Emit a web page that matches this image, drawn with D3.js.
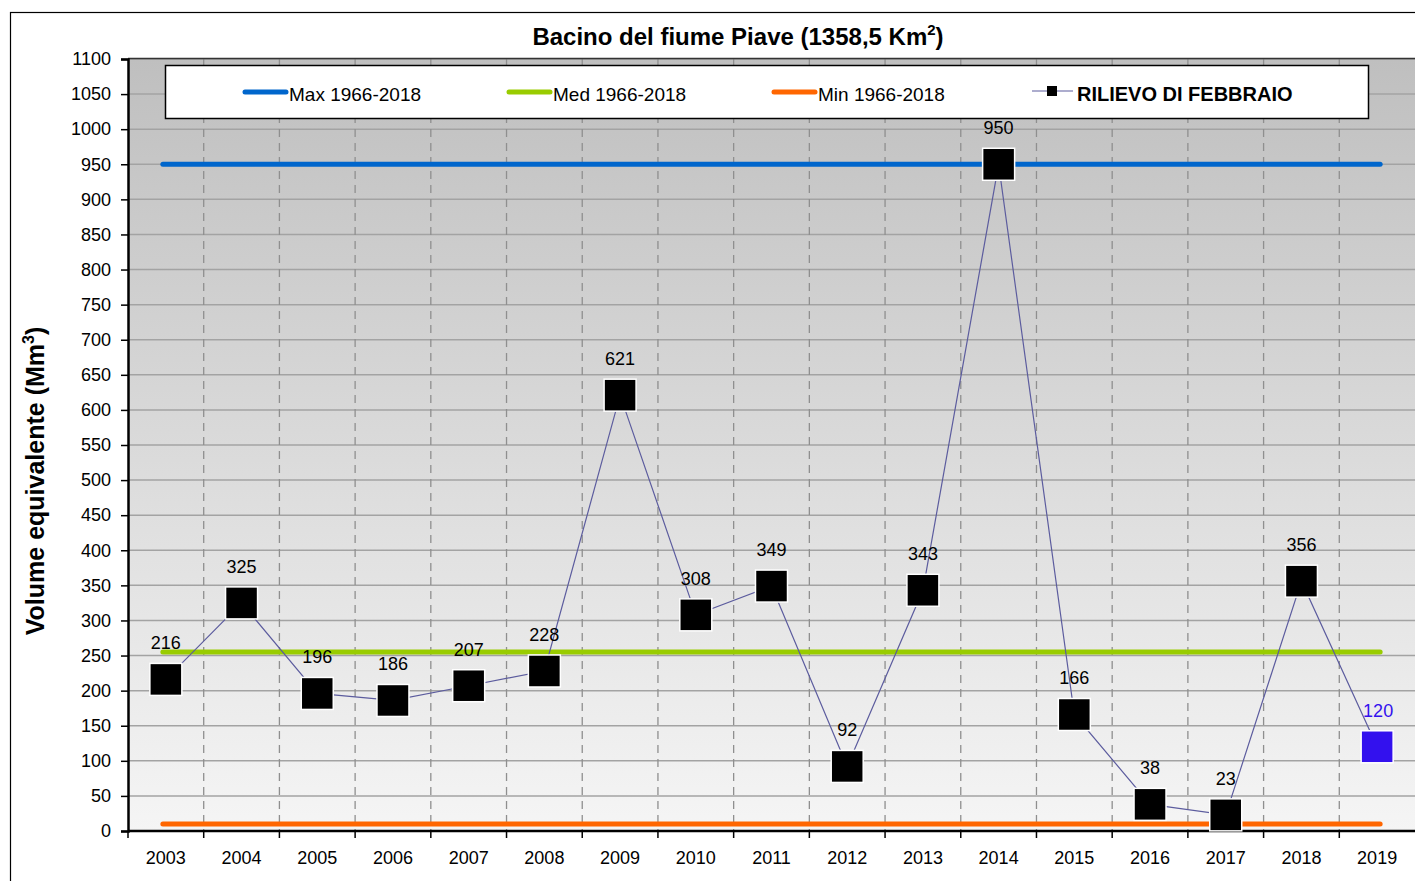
<!DOCTYPE html>
<html>
<head>
<meta charset="utf-8">
<script src="https://cdn.jsdelivr.net/npm/d3@7/dist/d3.min.js"></script>
<style>
  html, body { margin: 0; padding: 0; background: #fff; }
  svg { display: block; font-family: "Liberation Sans", Arial, sans-serif; }
</style>
</head>
<body>
<svg id="chart" width="1415" height="881"></svg>
<script>
// Snow water equivalent, February survey, Piave basin
const years = ["2003","2004","2005","2006","2007","2008","2009","2010","2011","2012","2013","2014","2015","2016","2017","2018","2019"];
const februaryValues = [216, 325, 196, 186, 207, 228, 621, 308, 349, 92, 343, 950, 166, 38, 23, 356, 120];
const maxRef = 950;   // Max 1966-2018
const medRef = 255;   // Med 1966-2018
const minRef = 10;    // Min 1966-2018
const yTicks = d3.range(0, 1101, 50);
const legendLabels = ["Max 1966-2018", "Med 1966-2018", "Min 1966-2018", "RILIEVO DI FEBBRAIO"];

const svg = d3.select("#chart");
const W = 1415, H = 881;
const plot = { left: 128, right: 1415, top: 59, bottom: 831 };

// outer chart frame
svg.append("rect").attr("x", 10.5).attr("y", 12.5).attr("width", W).attr("height", H)
  .attr("fill", "#fff").attr("stroke", "#000").attr("stroke-width", 1.2);

const x = d3.scaleBand().domain(years).range([plot.left, plot.right]).padding(0);
const y = d3.scaleLinear().domain([0, 1100]).range([plot.bottom, plot.top]);

// plot background gradient
const defs = svg.append("defs");
const grad = defs.append("linearGradient").attr("id", "bg").attr("x1", 0).attr("y1", 0).attr("x2", 0).attr("y2", 1);
grad.append("stop").attr("offset", "0%").attr("stop-color", "#bfbfbf");
grad.append("stop").attr("offset", "100%").attr("stop-color", "#f5f5f5");
svg.append("rect").attr("x", plot.left).attr("y", plot.top)
  .attr("width", plot.right - plot.left).attr("height", plot.bottom - plot.top)
  .attr("fill", "url(#bg)");

// horizontal gridlines
svg.append("g").selectAll("line").data(yTicks.filter(d => d > 0)).join("line")
  .attr("x1", plot.left).attr("x2", plot.right)
  .attr("y1", d => y(d)).attr("y2", d => y(d))
  .attr("stroke", "#a3a3a3").attr("stroke-width", 1.5);

// vertical dashed gridlines at category boundaries
svg.append("g").selectAll("line").data(years.slice(1)).join("line")
  .attr("x1", d => x(d)).attr("x2", d => x(d))
  .attr("y1", plot.top).attr("y2", plot.bottom)
  .attr("stroke", "#8f8f8f").attr("stroke-width", 1.3).attr("stroke-dasharray", "8,6");

// plot top border
svg.append("line").attr("x1", plot.left).attr("x2", plot.right)
  .attr("y1", plot.top - 0.5).attr("y2", plot.top - 0.5)
  .attr("stroke", "#333").attr("stroke-width", 1.5);

// title
const title = svg.append("text").attr("x", 738).attr("y", 45)
  .attr("text-anchor", "middle").attr("font-size", 24).attr("font-weight", "bold").attr("fill", "#000");
title.append("tspan").text("Bacino del fiume Piave (1358,5 Km");
title.append("tspan").attr("font-size", 15).attr("dy", -10).text("2");
title.append("tspan").attr("dy", 10).text(")");

// y axis title
const yTitle = svg.append("text")
  .attr("transform", "translate(44,481) rotate(-90)")
  .attr("text-anchor", "middle").attr("font-size", 25).attr("font-weight", "bold").attr("fill", "#000");
yTitle.append("tspan").text("Volume equivalente (Mm");
yTitle.append("tspan").attr("font-size", 16).attr("dy", -10).text("3");
yTitle.append("tspan").attr("dy", 10).text(")");

// y axis
const yAxis = svg.append("g").attr("transform", `translate(${plot.left},0)`)
  .call(d3.axisLeft(y).tickValues(yTicks).tickFormat(d3.format("d")).tickSize(7).tickPadding(10));
yAxis.select(".domain").attr("stroke", "#000").attr("stroke-width", 2.5);
yAxis.selectAll(".tick line").attr("stroke", "#000").attr("stroke-width", 1.5);
yAxis.selectAll(".tick text").attr("font-size", 18).attr("fill", "#000")
  .attr("font-family", "Liberation Sans, Arial, sans-serif");

// x axis: ticks at category boundaries, labels at centres
const xAxisG = svg.append("g");
xAxisG.append("line").attr("x1", plot.left).attr("x2", plot.right)
  .attr("y1", plot.bottom).attr("y2", plot.bottom)
  .attr("stroke", "#000").attr("stroke-width", 2.5);
xAxisG.selectAll("line.tk").data(years).join("line").attr("class", "tk")
  .attr("x1", d => x(d)).attr("x2", d => x(d))
  .attr("y1", plot.bottom).attr("y2", plot.bottom + 7)
  .attr("stroke", "#000").attr("stroke-width", 1.5);
xAxisG.selectAll("text").data(years).join("text")
  .attr("x", d => x(d) + x.bandwidth() / 2).attr("y", plot.bottom + 33)
  .attr("text-anchor", "middle").attr("font-size", 18).attr("fill", "#000").text(d => d);

// reference lines
const xFirst = x(years[0]) + x.bandwidth() / 2 - 3;
const xLast = x(years[years.length - 1]) + x.bandwidth() / 2 + 3;
const refs = [
  { v: maxRef, c: "#0066cc" },
  { v: medRef, c: "#99cc00" },
  { v: minRef, c: "#ff6600" }
];
svg.append("g").selectAll("line").data(refs).join("line")
  .attr("x1", xFirst).attr("x2", xLast)
  .attr("y1", d => y(d.v)).attr("y2", d => y(d.v))
  .attr("stroke", d => d.c).attr("stroke-width", 5).attr("stroke-linecap", "round");

// February survey series
const pts = years.map((yr, i) => ({ yr, v: februaryValues[i] }));
const line = d3.line().x(d => x(d.yr) + x.bandwidth() / 2).y(d => y(d.v));
svg.append("path").datum(pts).attr("d", line)
  .attr("fill", "none").attr("stroke", "#5c5c9e").attr("stroke-width", 1.2);

const ms = 32;
const lastYr = years[years.length - 1];
svg.append("g").selectAll("rect").data(pts).join("rect")
  .attr("x", d => x(d.yr) + x.bandwidth() / 2 - ms / 2)
  .attr("y", d => y(d.v) - ms / 2)
  .attr("width", ms).attr("height", ms)
  .attr("fill", d => d.yr === lastYr ? "#3311ee" : "#000")
  .attr("stroke", "#fff").attr("stroke-width", 1.5);

svg.append("g").selectAll("text").data(pts).join("text")
  .attr("x", d => x(d.yr) + x.bandwidth() / 2 + (d.yr === lastYr ? 1 : 0))
  .attr("y", d => y(d.v) - 30)
  .attr("text-anchor", "middle").attr("font-size", 18)
  .attr("fill", d => d.yr === lastYr ? "#3311ee" : "#000")
  .text(d => d.v);

// legend
const lg = svg.append("g");
lg.append("rect").attr("x", 165.5).attr("y", 65.5).attr("width", 1203).attr("height", 53)
  .attr("fill", "#fff").attr("stroke", "#000").attr("stroke-width", 1.5);
const legendItems = [
  { x: 245, c: "#0066cc", label: legendLabels[0] },
  { x: 509, c: "#99cc00", label: legendLabels[1] },
  { x: 774, c: "#ff6600", label: legendLabels[2] }
];
legendItems.forEach(it => {
  lg.append("line").attr("x1", it.x).attr("x2", it.x + 41).attr("y1", 92).attr("y2", 92)
    .attr("stroke", it.c).attr("stroke-width", 5).attr("stroke-linecap", "round");
  lg.append("text").attr("x", it.x + 44).attr("y", 101).attr("font-size", 19).attr("fill", "#000").text(it.label);
});
lg.append("line").attr("x1", 1032).attr("x2", 1073).attr("y1", 91).attr("y2", 91)
  .attr("stroke", "#5c5c9e").attr("stroke-width", 1.2);
lg.append("rect").attr("x", 1047).attr("y", 86).attr("width", 10).attr("height", 10).attr("fill", "#000");
lg.append("text").attr("x", 1077).attr("y", 101).attr("font-size", 20).attr("font-weight", "bold")
  .attr("fill", "#000").text(legendLabels[3]);
</script>
</body>
</html>
